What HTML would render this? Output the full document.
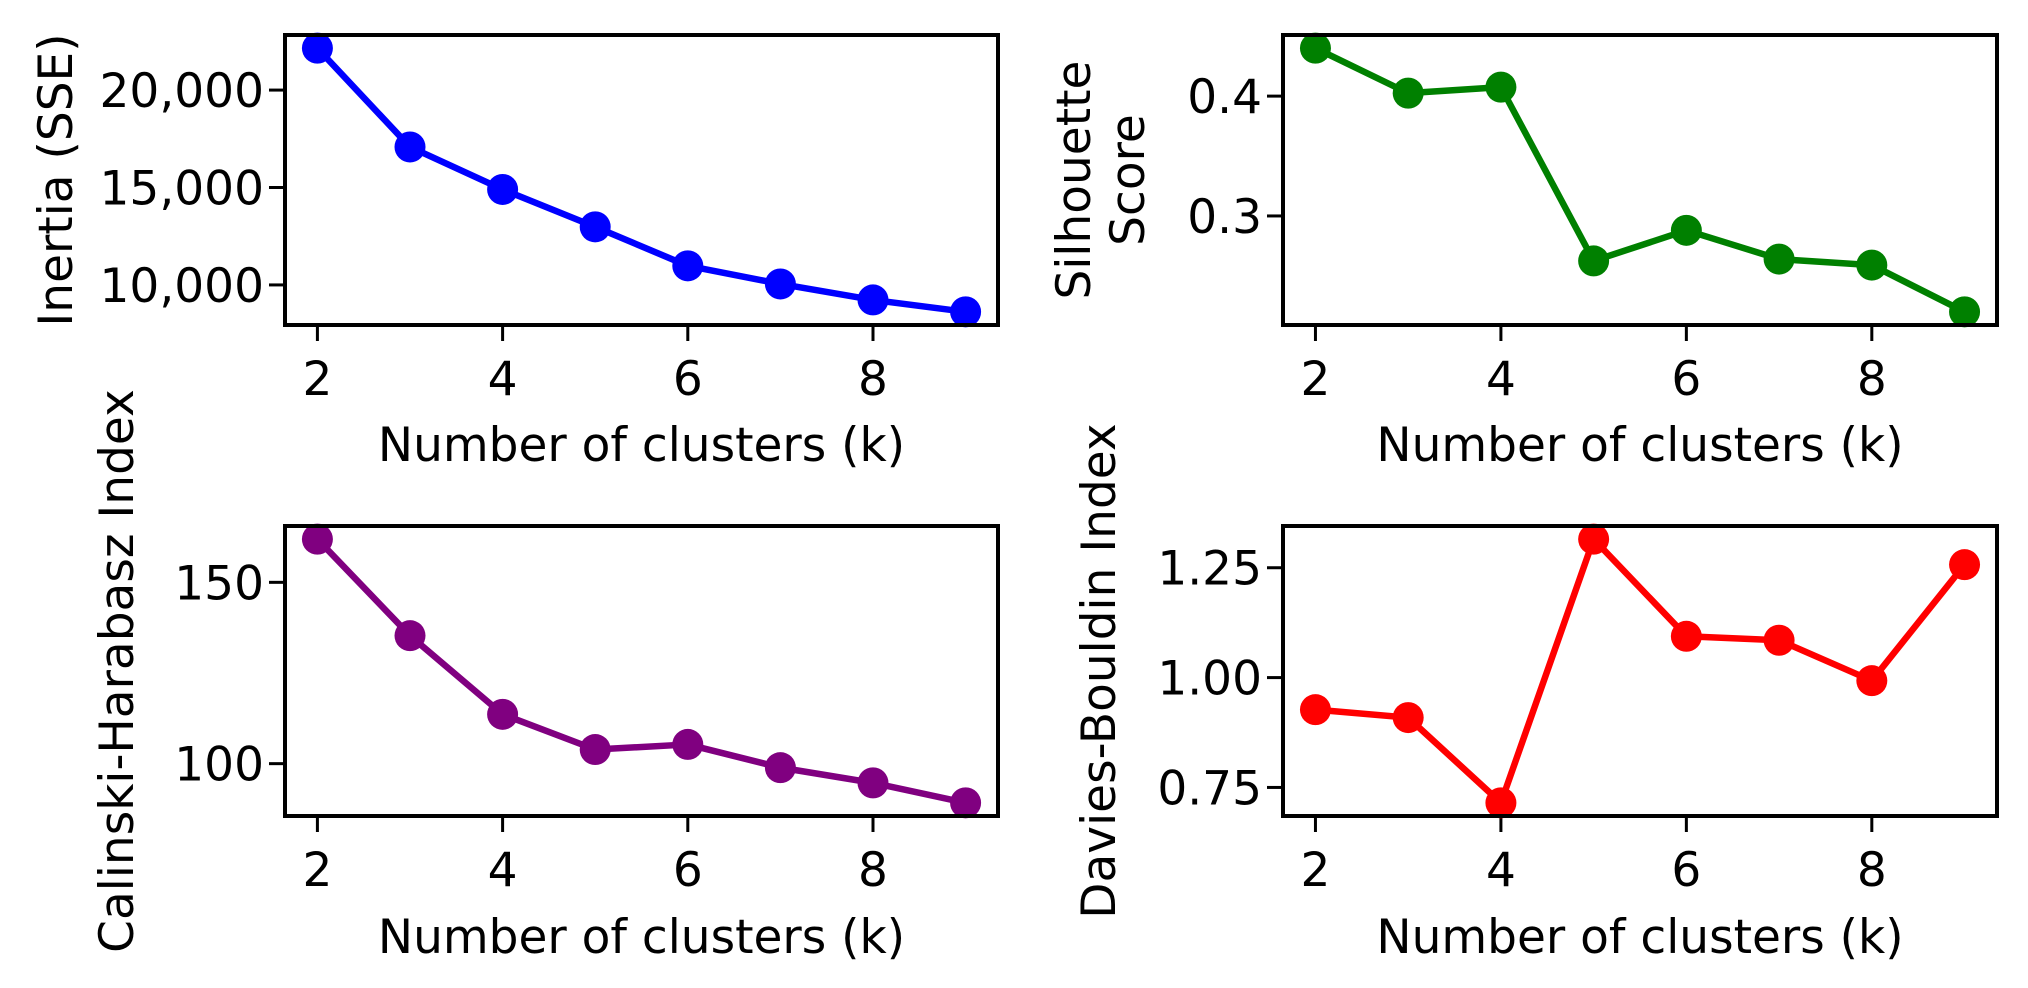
<!DOCTYPE html>
<html><head><meta charset="utf-8"><style>
html,body{margin:0;padding:0;background:#fff;}
svg{display:block;font-family:"DejaVu Sans","Liberation Sans",sans-serif;}
</style></head><body>
<svg id="fig" width="2028" height="988" viewBox="0 0 2028 988" xmlns="http://www.w3.org/2000/svg"></svg>
<script>
const kValues = [2,3,4,5,6,7,8,9];
const xTicks = [2,4,6,8];
const inertiaValues = [22150,17080,14900,12980,10980,10050,9230,8620];
const inertiaTicks = [10000,15000,20000];
const inertiaTickLabels = ["10,000","15,000","20,000"];
const silhouetteValues = [0.440,0.4025,0.4075,0.2625,0.288,0.264,0.259,0.220];
const silhouetteTicks = [0.3,0.4];
const silhouetteTickLabels = ["0.3","0.4"];
const chValues = [161.9,135.3,113.6,103.9,105.3,98.9,94.7,89.2];
const chTicks = [100,150];
const chTickLabels = ["100","150"];
const dbValues = [0.927,0.909,0.715,1.315,1.094,1.085,0.993,1.257];
const dbTicks = [0.75,1.00,1.25];
const dbTickLabels = ["0.75","1.00","1.25"];

const NS = "http://www.w3.org/2000/svg";
const svg = document.getElementById('fig');
const FS = 47;
function mk(tag, attrs, parent){
  const e = document.createElementNS(NS, tag);
  for (const k in attrs) e.setAttribute(k, attrs[k]);
  (parent||svg).appendChild(e);
  return e;
}
function panel(opts){
  const {name, L, T, R, B, values, ticks, tickLabels, color, ylabels, ylabelX, xlabelY} = opts;
  const g = mk('g', {});
  
  
  const xmin = 2 - 0.35, xmax = 9 + 0.35;
  const vmin = Math.min(...values), vmax = Math.max(...values);
  const pad = (vmax - vmin) * 0.05;
  const ymin = vmin - pad, ymax = vmax + pad;
  const sx = v => L + (v - xmin) / (xmax - xmin) * (R - L);
  const sy = v => B - (v - ymin) / (ymax - ymin) * (B - T);
  xTicks.forEach(t => {
    const x = sx(t);
    const tk = mk('line', {x1:x, x2:x, y1:B, y2:B+16, stroke:'#000','stroke-width':3}, g);
    
    
    const tl = mk('text', {x:x, y:B+70, 'font-size':FS, 'text-anchor':'middle', fill:'#000'}, g);
    tl.textContent = t;
    
    
  });
  ticks.forEach((t, i) => {
    const y = sy(t);
    const tk = mk('line', {x1:L-16, x2:L, y1:y, y2:y, stroke:'#000','stroke-width':3}, g);
    
    
    const tl = mk('text', {x:L-21, y:y+17, 'font-size':FS, 'text-anchor':'end', fill:'#000'}, g);
    tl.textContent = tickLabels[i];
    
    
  });
  const pts = kValues.map((k, i) => sx(k) + ',' + sy(values[i])).join(' ');
  const pl = mk('polyline', {points:pts, fill:'none', stroke:color, 'stroke-width':6.5, 'stroke-linejoin':'round'}, g);
  
  
  kValues.forEach((k, i) => {
    const c = mk('circle', {cx:sx(k), cy:sy(values[i]), r:15.5, fill:color}, g);
    
    
  });
  const fr = mk('rect', {x:L, y:T, width:R-L, height:B-T, fill:'none', stroke:'#000', 'stroke-width':4}, g);
  
  
  const xl = mk('text', {x:(L+R)/2, y:xlabelY, 'font-size':FS, 'text-anchor':'middle', fill:'#000'}, g);
  xl.textContent = 'Number of clusters (k)';
  
  
  const cy = (T + B) / 2;
  ylabels.forEach((lab, i) => {
    const bx = ylabelX[i] + 17;
    const yl = mk('text', {x:bx, y:cy, 'font-size':FS, 'text-anchor':'middle', fill:'#000', transform:'rotate(-90 '+bx+' '+cy+')'}, g);
    yl.textContent = lab;
    
    
  });
}
panel({name:'inertia', L:285, T:35, R:998, B:325, values:inertiaValues, ticks:inertiaTicks, tickLabels:inertiaTickLabels, color:'#0000ff', ylabels:['Inertia (SSE)'], ylabelX:[55], xlabelY:461});
panel({name:'silhouette', L:1283, T:35, R:1997, B:325, values:silhouetteValues, ticks:silhouetteTicks, tickLabels:silhouetteTickLabels, color:'#008000', ylabels:['Silhouette','Score'], ylabelX:[1073,1127], xlabelY:461});
panel({name:'calinski', L:285, T:526, R:998, B:816, values:chValues, ticks:chTicks, tickLabels:chTickLabels, color:'#800080', ylabels:['Calinski-Harabasz Index'], ylabelX:[116], xlabelY:953});
panel({name:'davies', L:1283, T:526, R:1997, B:816, values:dbValues, ticks:dbTicks, tickLabels:dbTickLabels, color:'#ff0000', ylabels:['Davies-Bouldin Index'], ylabelX:[1098], xlabelY:953});
</script>
</body></html>
